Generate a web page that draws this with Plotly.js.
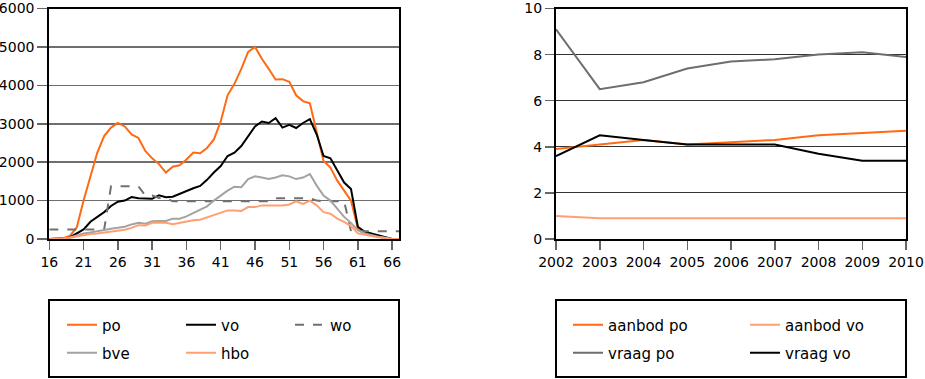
<!DOCTYPE html>
<html>
<head>
<meta charset="utf-8">
<script src="https://cdn.plot.ly/plotly-3.0.1.min.js"></script>
<style>html,body{margin:0;padding:0;background:#fff;} #chart{width:925px;height:379px;}</style>
</head>
<body>
<div id="chart"></div>
<script>
// ---- Left chart data (age 16..67) ----
const ages = [16,17,18,19,20,21,22,23,24,25,26,27,28,29,30,31,32,33,34,35,36,37,38,39,40,41,42,43,44,45,46,47,48,49,50,51,52,53,54,55,56,57,58,59,60,61,62,63,64,65,66,67];
const po  = [0,5,20,80,300,1000,1620,2250,2680,2900,3020,2930,2720,2630,2290,2100,1950,1730,1880,1920,2070,2250,2230,2370,2590,3060,3740,4040,4430,4870,5000,4690,4430,4150,4160,4090,3740,3590,3530,2800,2030,1860,1520,1260,1000,270,150,100,60,20,0,0];
const vo  = [0,0,10,40,150,250,450,580,700,860,970,1000,1090,1060,1045,1045,1140,1090,1100,1180,1240,1320,1380,1540,1730,1900,2160,2245,2420,2670,2930,3060,3020,3145,2900,2970,2890,3020,3120,2720,2160,2100,1770,1470,1300,320,190,145,85,35,0,0];
const wo  = [250,250,250,250,250,250,250,250,250,1370,1370,1370,1370,1370,1130,1130,1070,1070,980,980,980,980,980,980,980,980,980,980,980,980,980,980,980,1060,1060,1060,1060,1060,1060,1000,980,980,980,980,200,200,200,200,200,200,200,200];
const bve = [0,5,15,40,90,145,170,205,230,265,290,320,380,420,400,460,470,470,530,530,590,680,760,850,1000,1130,1260,1360,1350,1560,1630,1600,1560,1600,1660,1630,1560,1600,1690,1390,1130,1000,790,575,420,230,145,100,60,35,0,0];
const hbo = [0,5,15,35,70,100,130,145,170,200,230,240,290,360,350,420,420,420,385,420,445,490,500,560,620,700,745,745,730,830,830,875,875,875,875,900,980,915,1000,875,700,660,530,445,335,145,100,75,45,15,0,0];
const leftTicks = [16,21,26,31,36,41,46,51,56,61,66];
const leftYTicks = [0,1000,2000,3000,4000,5000,6000];

// ---- Right chart data (years) ----
const years = [2002,2003,2004,2005,2006,2007,2008,2009,2010];
const aanbodPo = [3.9,4.1,4.3,4.1,4.2,4.3,4.5,4.6,4.7];
const aanbodVo = [1.0,0.9,0.9,0.9,0.9,0.9,0.9,0.9,0.9];
const vraagPo  = [9.1,6.5,6.8,7.4,7.7,7.8,8.0,8.1,7.9];
const vraagVo  = [3.6,4.5,4.3,4.1,4.1,4.1,3.7,3.4,3.4];
const rightYTicks = [0,2,4,6,8,10];

const C = {po:'#ff6a13', vo:'#000000', wo:'#707070', bve:'#a3a3a3', hbo:'#ffa070', vpo:'#6e6e6e'};
const W = 925, H = 379;
const FONT = 'DejaVu Sans, sans-serif';

function tr(x, y, name, color, xa, ya, leg, dash) {
  return {x:x, y:y, name:name, type:'scatter', mode:'lines', xaxis:xa, yaxis:ya, legend:leg,
          line:{color:color, width:2, dash:dash||'solid'}, hoverinfo:'skip'};
}

const data = [
  tr(ages, po,  'po',  C.po,  'x','y','legend'),
  tr(ages, vo,  'vo',  C.vo,  'x','y','legend2'),
  tr(ages, wo,  'wo',  C.wo,  'x','y','legend3','dash'),
  tr(ages, bve, 'bve', C.bve, 'x','y','legend4'),
  tr(ages, hbo, 'hbo', C.hbo, 'x','y','legend5'),
  tr(years, aanbodPo, 'aanbod po', C.po,  'x2','y2','legend6'),
  tr(years, aanbodVo, 'aanbod vo', C.hbo, 'x2','y2','legend7'),
  tr(years, vraagPo,  'vraag po',  C.vpo, 'x2','y2','legend8'),
  tr(years, vraagVo,  'vraag vo',  C.vo,  'x2','y2','legend9')
];

// legend entry positions (pixel: line start x, row centre y)
const legPos = [[68,325],[187,325],[296,325],[68,353],[187,353],[574,325],[751,325],[574,353],[751,353]];
const OFFX = 6;

const yDom = [1-239/H, 1-8.5/H];
const axCommon = {showline:true, linecolor:'#000', linewidth:2, mirror:true, ticks:'outside',
  tickcolor:'#666', tickwidth:1.5, tickfont:{family:FONT, size:14, color:'#000'}, zeroline:false,
  fixedrange:true, ticklabeloverflow:'allow'};

const layout = {
  width:W, height:H, margin:{l:0,r:0,t:0,b:0}, paper_bgcolor:'#fff', plot_bgcolor:'#fff',
  showlegend:true, font:{family:FONT, size:14, color:'#000'},
  xaxis: Object.assign({}, axCommon, {domain:[49.3/W, 399/W], range:[16,67], tickvals:leftTicks, ticklen:9, showgrid:false, anchor:'y'}),
  yaxis: Object.assign({}, axCommon, {domain:yDom, range:[0,6000], tickvals:leftYTicks, ticklen:10, showgrid:true, gridcolor:'#6e6e6e', gridwidth:1.5, anchor:'x'}),
  xaxis2: Object.assign({}, axCommon, {domain:[556/W, 906/W], range:[2002,2010], tickvals:years, ticklen:9, showgrid:false, anchor:'y2'}),
  yaxis2: Object.assign({}, axCommon, {domain:yDom, range:[0,10], tickvals:rightYTicks, ticklen:9, showgrid:true, gridcolor:'#333', gridwidth:1, anchor:'x2'}),
  shapes:[
    {type:'rect', xref:'paper', yref:'paper', x0:49/W, x1:399/W, y0:1-377/H, y1:1-300/H, line:{color:'#000', width:2}},
    {type:'rect', xref:'paper', yref:'paper', x0:556/W, x1:906/W, y0:1-377/H, y1:1-300/H, line:{color:'#000', width:2}}
  ]
};
legPos.forEach(function(p, i){
  const key = i === 0 ? 'legend' : 'legend' + (i+1);
  layout[key] = {x:(p[0]-OFFX)/W, y:1-p[1]/H, xanchor:'left', yanchor:'middle', orientation:'h',
    bgcolor:'rgba(0,0,0,0)', borderwidth:0, itemwidth:30, font:{family:FONT, size:15, color:'#000'}, itemclick:false, itemdoubleclick:false};
});

Plotly.newPlot('chart', data, layout, {displayModeBar:false, staticPlot:true});
</script>
</body>
</html>
